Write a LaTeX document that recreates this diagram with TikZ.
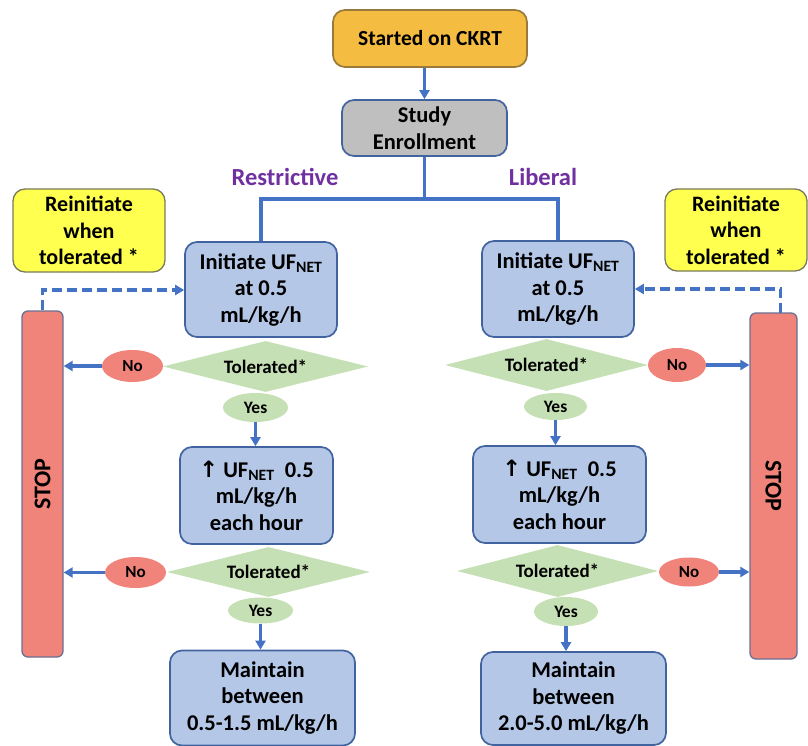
\documentclass[tikz,border=0pt]{standalone}
\usepackage{fontspec}
\setmainfont{Carlito}
\newfontfamily\symfont{DejaVu Sans}
\usetikzlibrary{shapes.geometric,arrows.meta,calc}
\definecolor{boxblue}{HTML}{B4C7E7}
\definecolor{boxedge}{HTML}{41639F}
\definecolor{arrblue}{HTML}{4472C4}
\definecolor{tolgreen}{HTML}{C5E0B4}
\definecolor{nored}{HTML}{F0847A}
\definecolor{stopedge}{HTML}{6B6F94}
\definecolor{reyellow}{HTML}{FFFF4F}
\definecolor{reedge}{HTML}{7A7A5A}
\definecolor{startorange}{HTML}{F5BC42}
\definecolor{startedge}{HTML}{9A7A3A}
\definecolor{enrgray}{HTML}{BFBFBF}
\definecolor{armpurple}{HTML}{7030A0}
\tikzset{
  every node/.style={font=\bfseries},
  bluebox/.style={draw=boxedge, line width=1.7pt, fill=boxblue, rounded corners=12pt,
     align=center, inner sep=0pt, font=\fontsize{22.5}{26.5}\selectfont\bfseries},
  tolbox/.style={diamond, fill=tolgreen, inner sep=0pt, aspect=4,
     font=\fontsize{19}{21}\selectfont\bfseries},
  yesbox/.style={ellipse, fill=tolgreen, inner sep=0pt,
     font=\fontsize{17.5}{20}\selectfont\bfseries},
  nobox/.style={ellipse, fill=nored, inner sep=0pt,
     font=\fontsize{17}{20}\selectfont\bfseries},
  stopbox/.style={draw=stopedge, line width=1.3pt, fill=nored, rounded corners=6pt, inner sep=0pt},
  stoptext/.style={font=\fontsize{24}{26}\selectfont\bfseries},
  rebox/.style={draw=reedge, line width=1.3pt, fill=reyellow, rounded corners=12pt, align=center,
     inner sep=0pt, font=\fontsize{22}{26.5}\selectfont\bfseries},
  conn/.style={draw=arrblue, line width=3.4pt},
  arr/.style={conn, -{Triangle[length=9pt,width=10pt]}},
  darr/.style={conn, dash pattern=on 10pt off 5pt, -{Triangle[length=9pt,width=10pt]}},
  armlbl/.style={text=armpurple, font=\fontsize{24.5}{28}\selectfont\bfseries}
}
\begin{document}
\begin{tikzpicture}[x=1pt,y=-1pt]
\useasboundingbox (0,0) rectangle (808,746);

% top
\node[bluebox, draw=startedge, fill=startorange, minimum width=194pt, minimum height=57pt,
      font=\fontsize{21.5}{24}\selectfont\bfseries] (start) at (430,38.5) {Started on CKRT};
\node[bluebox, fill=enrgray, minimum width=165pt, minimum height=56pt] (enroll) at (424.5,128) {Study\\Enrollment};
\node[armlbl] (restr) at (285,177) {Restrictive};
\node[armlbl] (liberal) at (543,177) {Liberal};

% left column
\node[bluebox, minimum width=152pt, minimum height=95pt] (initL) at (261,289.5)
   {Initiate UF\textsubscript{NET}\\at 0.5\\mL/kg/h};
\node[tolbox, minimum width=205pt, minimum height=51pt] (tolL) at (265.5,366.5) {Tolerated*};
\node[nobox, minimum width=61pt, minimum height=32pt] (noL) at (132.5,366) {No};
\node[yesbox, minimum width=65pt, minimum height=29pt] (yesL) at (255.5,407.5) {Yes};
\node[bluebox, minimum width=153pt, minimum height=97pt] (incL) at (256.5,495.5)
   {{\symfont ↑} UF\textsubscript{NET}\ \ 0.5\\mL/kg/h\\each hour};
\node[tolbox, minimum width=203pt, minimum height=50pt] (tolL2) at (268.5,572) {Tolerated*};
\node[nobox, minimum width=61pt, minimum height=31pt] (noL2) at (135.5,572.5) {No};
\node[yesbox, minimum width=65pt, minimum height=26pt] (yesL2) at (260.5,610.5) {Yes};
\node[bluebox, minimum width=185pt, minimum height=95pt] (mainL) at (262.5,698)
   {Maintain\\between\\0.5-1.5 mL/kg/h};

% right column
\node[bluebox, minimum width=152pt, minimum height=96pt] (initR) at (558,289)
   {Initiate UF\textsubscript{NET}\\at 0.5\\mL/kg/h};
\node[tolbox, minimum width=203pt, minimum height=52pt] (tolR) at (546.5,365) {Tolerated*};
\node[nobox, minimum width=58pt, minimum height=34pt] (noR) at (677,365) {No};
\node[yesbox, minimum width=63pt, minimum height=27pt] (yesR) at (555.5,406.5) {Yes};
\node[bluebox, minimum width=173pt, minimum height=97pt] (incR) at (559.5,494.5)
   {{\symfont ↑} UF\textsubscript{NET}\ \ 0.5\\mL/kg/h\\each hour};
\node[tolbox, minimum width=201pt, minimum height=52pt] (tolR2) at (557.5,571) {Tolerated*};
\node[nobox, minimum width=60pt, minimum height=29pt] (noR2) at (689,572) {No};
\node[yesbox, minimum width=64pt, minimum height=29pt] (yesR2) at (566,611.5) {Yes};
\node[bluebox, minimum width=185pt, minimum height=93pt] (mainR) at (573.5,698.5)
   {Maintain\\between\\2.0-5.0 mL/kg/h};

% side boxes
\node[rebox, minimum width=152pt, minimum height=83pt] (reL) at (89,230.5) {Reinitiate\\when\\tolerated *};
\node[rebox, minimum width=142pt, minimum height=82pt] (reR) at (736,230) {Reinitiate\\when\\tolerated *};
\node[stopbox, minimum width=41pt, minimum height=346pt] (stopL) at (42.5,484) {};
\node[stoptext, rotate=90] (stopLt) at (stopL.center) {STOP};
\node[stopbox, minimum width=47pt, minimum height=346pt] (stopR) at (773.5,486) {};
\node[stoptext, rotate=-90] (stopRt) at (stopR.center) {STOP};

\coordinate (split) at (424.5,199);
\coordinate (dashL) at (42.5,290);
\coordinate (dashRb) at (780.5,313);
\coordinate (dashR) at (780.5,289);

% connectors
\draw[arr] (start.south -| enroll.north) -- (enroll.north);
\draw[conn] (enroll.south) -- (split);
\draw[conn] (split) -| (initL.north);
\draw[conn] (split) -| (initR.north);

\draw[darr] (stopL.north) -- (dashL) -- (dashL -| initL.west);
\draw[darr] (dashRb) -- (dashR) -- (dashR -| initR.east);

\draw[arr] (noL.west) -- (noL.west -| stopL.east);
\draw[arr] (noL2.west) -- (noL2.west -| stopL.east);
\draw[arr] (noR.east) -- (noR.east -| stopR.west);
\draw[arr] (noR2.east) -- (noR2.east -| stopR.west);

\draw[arr] (yesL.south) -- (yesL.south |- incL.north);
\draw[arr] (yesL2.south) -- (yesL2.south |- mainL.north);
\draw[arr] (yesR.south) -- (yesR.south |- incR.north);
\draw[arr] (yesR2.south) -- (yesR2.south |- mainR.north);
\end{tikzpicture}
\end{document}
